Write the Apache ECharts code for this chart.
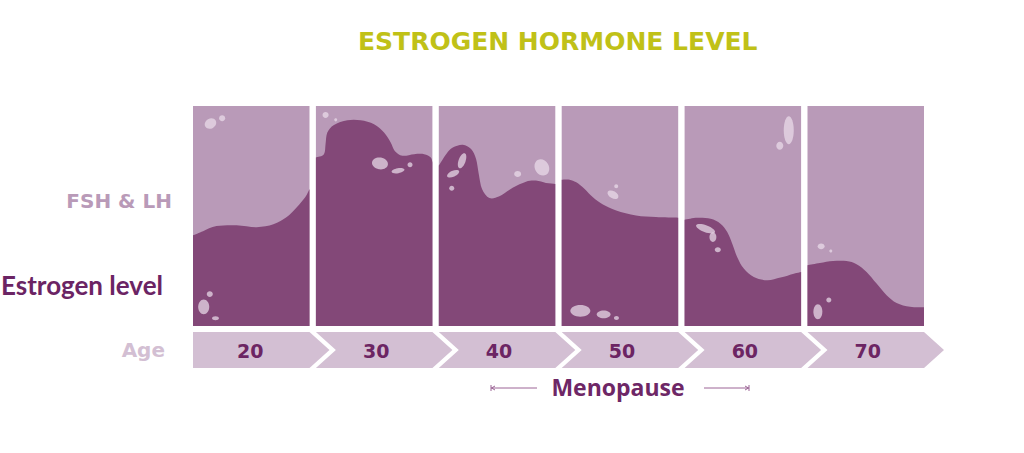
<!DOCTYPE html>
<html>
<head>
<meta charset="utf-8">
<script src="https://cdn.jsdelivr.net/npm/echarts@6/dist/echarts.min.js"></script>
<style>
html,body{margin:0;padding:0;background:#ffffff;}
#chart{width:1024px;height:453px;}
</style>
</head>
<body>
<div id="chart"></div>
<script>
// ---------- data ----------
const ages = ['20', '30', '40', '50', '60', '70'];

// estrogen level outline per decade panel: [position across panel 0..100, level 0..100]
const estrogen20 = [[0,41.2],[8.6,43.1],[20.2,45.4],[37.4,45.8],[54.7,44.9],[69,46.2],[80.5,49.5],[89.1,54],[96.3,58.5],[100,62.3]];
const estrogen30 = [[0,76.6],[6.9,78.1],[8.3,82.7],[9.8,87.9],[15.5,91.4],[27,93.5],[38.4,93.5],[49.9,91.7],[58.5,87.9],[64.2,83.4],[67.7,79.6],[74.3,77.4],[84.3,78.1],[92.9,78.1],[98.6,76.6],[100,74.3]];
const estrogen40 = [[0,72.9],[6.3,78.1],[12,81.1],[20.6,82.4],[27.7,80.4],[32,75.9],[34.3,69.1],[37.1,62.3],[43.4,58.2],[52,59],[63.4,62.8],[74.8,65.6],[83.4,66.1],[92,65],[100,64.6]];
const estrogen50 = [[0,66.5],[6.8,66.5],[12.5,65.3],[19.7,62.3],[26.8,58.5],[35.4,55.2],[46.8,52.5],[63.8,50.2],[80.9,49.5],[100,49.2]];
const estrogen60 = [[0,48.3],[10.9,49.2],[22.3,48.7],[30.8,46.5],[36.6,42.7],[40.9,37.4],[45.1,31.4],[50.8,26.1],[59.4,22.3],[70.9,20.8],[82.3,22],[93.7,23.8],[100,24.6]];
const estrogen70 = [[0,27.6],[10.6,28.6],[22,29.5],[33.5,29.5],[42.1,28.1],[50.7,24.6],[59.3,19.3],[67.9,14],[76.5,10.5],[88,8.7],[100,8.5]];

// decorative bubbles per panel: [x, y, width, height, tilt°] in panel units
const spots20 = [[15,92,10.3,4.5,30],[25,94.4,5.2,2.7,0],[9.2,8.7,9.5,6.8,0],[14.4,14.5,5.2,2.7,0],[19.3,3.5,6,1.8,0]];
const spots30 = [[8.3,95.9,5.2,2.7,0],[17,93.7,2.6,1.4,0],[55,73.9,13.8,5.4,-10],[70.5,70.6,11.2,2.3,10],[80.8,73.3,4.3,2.3,0]];
const spots40 = [[20,75.1,6,7.2,-20],[12.3,69.2,11.2,2.7,25],[11.1,62.6,4.3,2.3,0],[67.7,69.1,6,2.7,0],[88.5,72.1,12,7.7,30]];
const spots50 = [[44,59.7,10.3,3.2,-30],[46.8,63.5,3.4,1.8,0],[16,6.9,17.2,5.4,0],[36,5.3,12,3.6,0],[47,3.6,4.3,1.8,0]];
const spots60 = [[89.4,89,8.6,12.7,0],[81.7,81.9,6,3.6,0],[18,44.2,17.2,3.2,-20],[24.3,40.4,6,4.5,0],[28.5,34.7,5.2,2.3,0]];
const spots70 = [[11.7,36.2,6,2.7,0],[20,34.1,2.6,1.4,0],[18.3,11.8,4.3,2.3,0],[8.9,6.5,7.7,6.8,0]];

// ---------- layout & style ----------
const PANEL_LEFT = 193, PANEL_STEP = 122.9, PANEL_W = 116.5, PANEL_TOP = 106, PANEL_H = 220;
const ROW_TOP = 332, ROW_H = 36, TIP = 20;
const LIGHT = '#b99ab8', DARK = '#834878', SPOT = 'rgba(234,220,234,0.72)', CHEVRON = '#d3bfd3';
const TEXT_DARK = '#6c2563';

const curves = [estrogen20, estrogen30, estrogen40, estrogen50, estrogen60, estrogen70];
const spots = [spots20, spots30, spots40, spots50, spots60, spots70];

const grids = [], xAxes = [], yAxes = [], series = [];

function renderSpot(params, api) {
  const c = api.coord([api.value(0), api.value(1)]);
  const s = api.size([api.value(2), api.value(3)]);
  return {
    type: 'ellipse',
    x: c[0], y: c[1],
    rotation: api.value(4) * Math.PI / 180,
    shape: { cx: 0, cy: 0, rx: s[0] / 2, ry: s[1] / 2 },
    style: { fill: SPOT }
  };
}

// smooth area (Catmull-Rom through the outline points) down to the panel floor
function makeAreaRenderer(curve) {
  return function (params, api) {
    if (params.dataIndex !== 0) return null;
    const p = curve.map(d => api.coord(d));
    const n = p.length;
    const f = v => v.toFixed(2);
    let d = 'M' + f(p[0][0]) + ' ' + f(p[0][1]);
    for (let i = 0; i < n - 1; i++) {
      const p0 = p[Math.max(i - 1, 0)], p1 = p[i], p2 = p[i + 1], p3 = p[Math.min(i + 2, n - 1)];
      const c1x = p1[0] + (p2[0] - p0[0]) / 6, c1y = p1[1] + (p2[1] - p0[1]) / 6;
      const c2x = p2[0] - (p3[0] - p1[0]) / 6, c2y = p2[1] - (p3[1] - p1[1]) / 6;
      d += ' C' + f(c1x) + ' ' + f(c1y) + ' ' + f(c2x) + ' ' + f(c2y) + ' ' + f(p2[0]) + ' ' + f(p2[1]);
    }
    const br = api.coord([100, 0]), bl = api.coord([0, 0]);
    d += ' L' + f(br[0]) + ' ' + f(br[1]) + ' L' + f(bl[0]) + ' ' + f(bl[1]) + ' Z';
    return { type: 'path', shape: { pathData: d }, style: { fill: DARK } };
  };
}

curves.forEach((curve, i) => {
  grids.push({
    left: PANEL_LEFT + i * PANEL_STEP, top: PANEL_TOP, width: PANEL_W, height: PANEL_H,
    show: true, backgroundColor: LIGHT, borderWidth: 0
  });
  xAxes.push({ gridIndex: i, type: 'value', min: 0, max: 100, show: false });
  yAxes.push({ gridIndex: i, type: 'value', min: 0, max: 100, show: false });
  series.push({
    type: 'custom', name: 'Estrogen level ' + ages[i], xAxisIndex: i, yAxisIndex: i,
    data: curve, renderItem: makeAreaRenderer(curve), clip: true, silent: true, z: 2
  });
  series.push({
    type: 'custom', name: 'spots ' + ages[i], xAxisIndex: i, yAxisIndex: i,
    data: spots[i], renderItem: renderSpot, silent: true, z: 5
  });
});

// age chevron row
grids.push({ left: PANEL_LEFT, top: ROW_TOP, width: PANEL_STEP * ages.length, height: ROW_H, show: false });
xAxes.push({ gridIndex: 6, type: 'category', data: ages, show: false });
yAxes.push({ gridIndex: 6, type: 'value', min: 0, max: 1, show: false });
series.push({
  type: 'custom', name: 'Age', xAxisIndex: 6, yAxisIndex: 6,
  data: ages.map((a, i) => [i, 1]),
  encode: { x: 0, y: 1 },
  silent: true,
  renderItem: function (params, api) {
    const idx = params.dataIndex;
    const c0 = api.coord([idx, 0]);
    const c1 = api.coord([idx, 1]);
    const band = api.size([1, 0])[0];
    const left = c0[0] - band / 2;
    const right = left + PANEL_W;
    const top = c1[1], bottom = c0[1], mid = (top + bottom) / 2;
    const pts = [[left, top], [right, top], [right + TIP, mid], [right, bottom], [left, bottom]];
    if (idx > 0) pts.push([left + TIP, mid]);
    return {
      type: 'group',
      children: [
        { type: 'polygon', shape: { points: pts }, style: { fill: CHEVRON } },
        {
          type: 'text', x: (left + right) / 2 + (idx > 0 ? 2 : -1), y: mid + 1,
          style: {
            text: ages[idx], font: 'bold 19px "DejaVu Sans"', fill: TEXT_DARK,
            textAlign: 'center', textVerticalAlign: 'middle', align: 'center', verticalAlign: 'middle'
          }
        }
      ]
    };
  }
});

const option = {
  backgroundColor: '#ffffff',
  animation: false,
  title: {
    text: 'ESTROGEN HORMONE LEVEL',
    left: 358, top: 29, padding: 0,
    textStyle: { color: '#c0c117', fontFamily: 'DejaVu Sans', fontWeight: 'bold', fontSize: 25 }
  },
  grid: grids,
  xAxis: xAxes,
  yAxis: yAxes,
  series: series,
  graphic: [
    { type: 'text', x: 172, y: 201, style: { text: 'FSH & LH', font: 'bold 20px "DejaVu Sans"', fill: LIGHT, textAlign: 'right', textVerticalAlign: 'middle', align: 'right', verticalAlign: 'middle' } },
    { type: 'text', x: 163, y: 285, style: { text: 'Estrogen level', font: 'bold 26px Lato', fill: '#6b2464', textAlign: 'right', textVerticalAlign: 'middle', align: 'right', verticalAlign: 'middle' } },
    { type: 'text', x: 165, y: 350, style: { text: 'Age', font: 'bold 20px "DejaVu Sans"', fill: CHEVRON, textAlign: 'right', textVerticalAlign: 'middle', align: 'right', verticalAlign: 'middle' } },
    { type: 'text', x: 618, y: 387, style: { text: 'Menopause', font: 'bold 23px "Open Sans"', fill: '#6e2766', textAlign: 'center', textVerticalAlign: 'middle', align: 'center', verticalAlign: 'middle' } },
    { type: 'line', shape: { x1: 491, y1: 388, x2: 537, y2: 388 }, style: { stroke: '#9c6596', lineWidth: 1 } },
    { type: 'line', shape: { x1: 491, y1: 385, x2: 491, y2: 391 }, style: { stroke: '#9c6596', lineWidth: 1 } },
    { type: 'polyline', shape: { points: [[495, 386], [491.5, 388], [495, 390]] }, style: { stroke: '#9c6596', lineWidth: 1, fill: null } },
    { type: 'line', shape: { x1: 704, y1: 388, x2: 749, y2: 388 }, style: { stroke: '#9c6596', lineWidth: 1 } },
    { type: 'line', shape: { x1: 749, y1: 385, x2: 749, y2: 391 }, style: { stroke: '#9c6596', lineWidth: 1 } },
    { type: 'polyline', shape: { points: [[745, 386], [748.5, 388], [745, 390]] }, style: { stroke: '#9c6596', lineWidth: 1, fill: null } }
  ]
};

const chart = echarts.init(document.getElementById('chart'), null, { renderer: 'svg', width: 1024, height: 453 });
chart.setOption(option);
</script>
</body>
</html>
